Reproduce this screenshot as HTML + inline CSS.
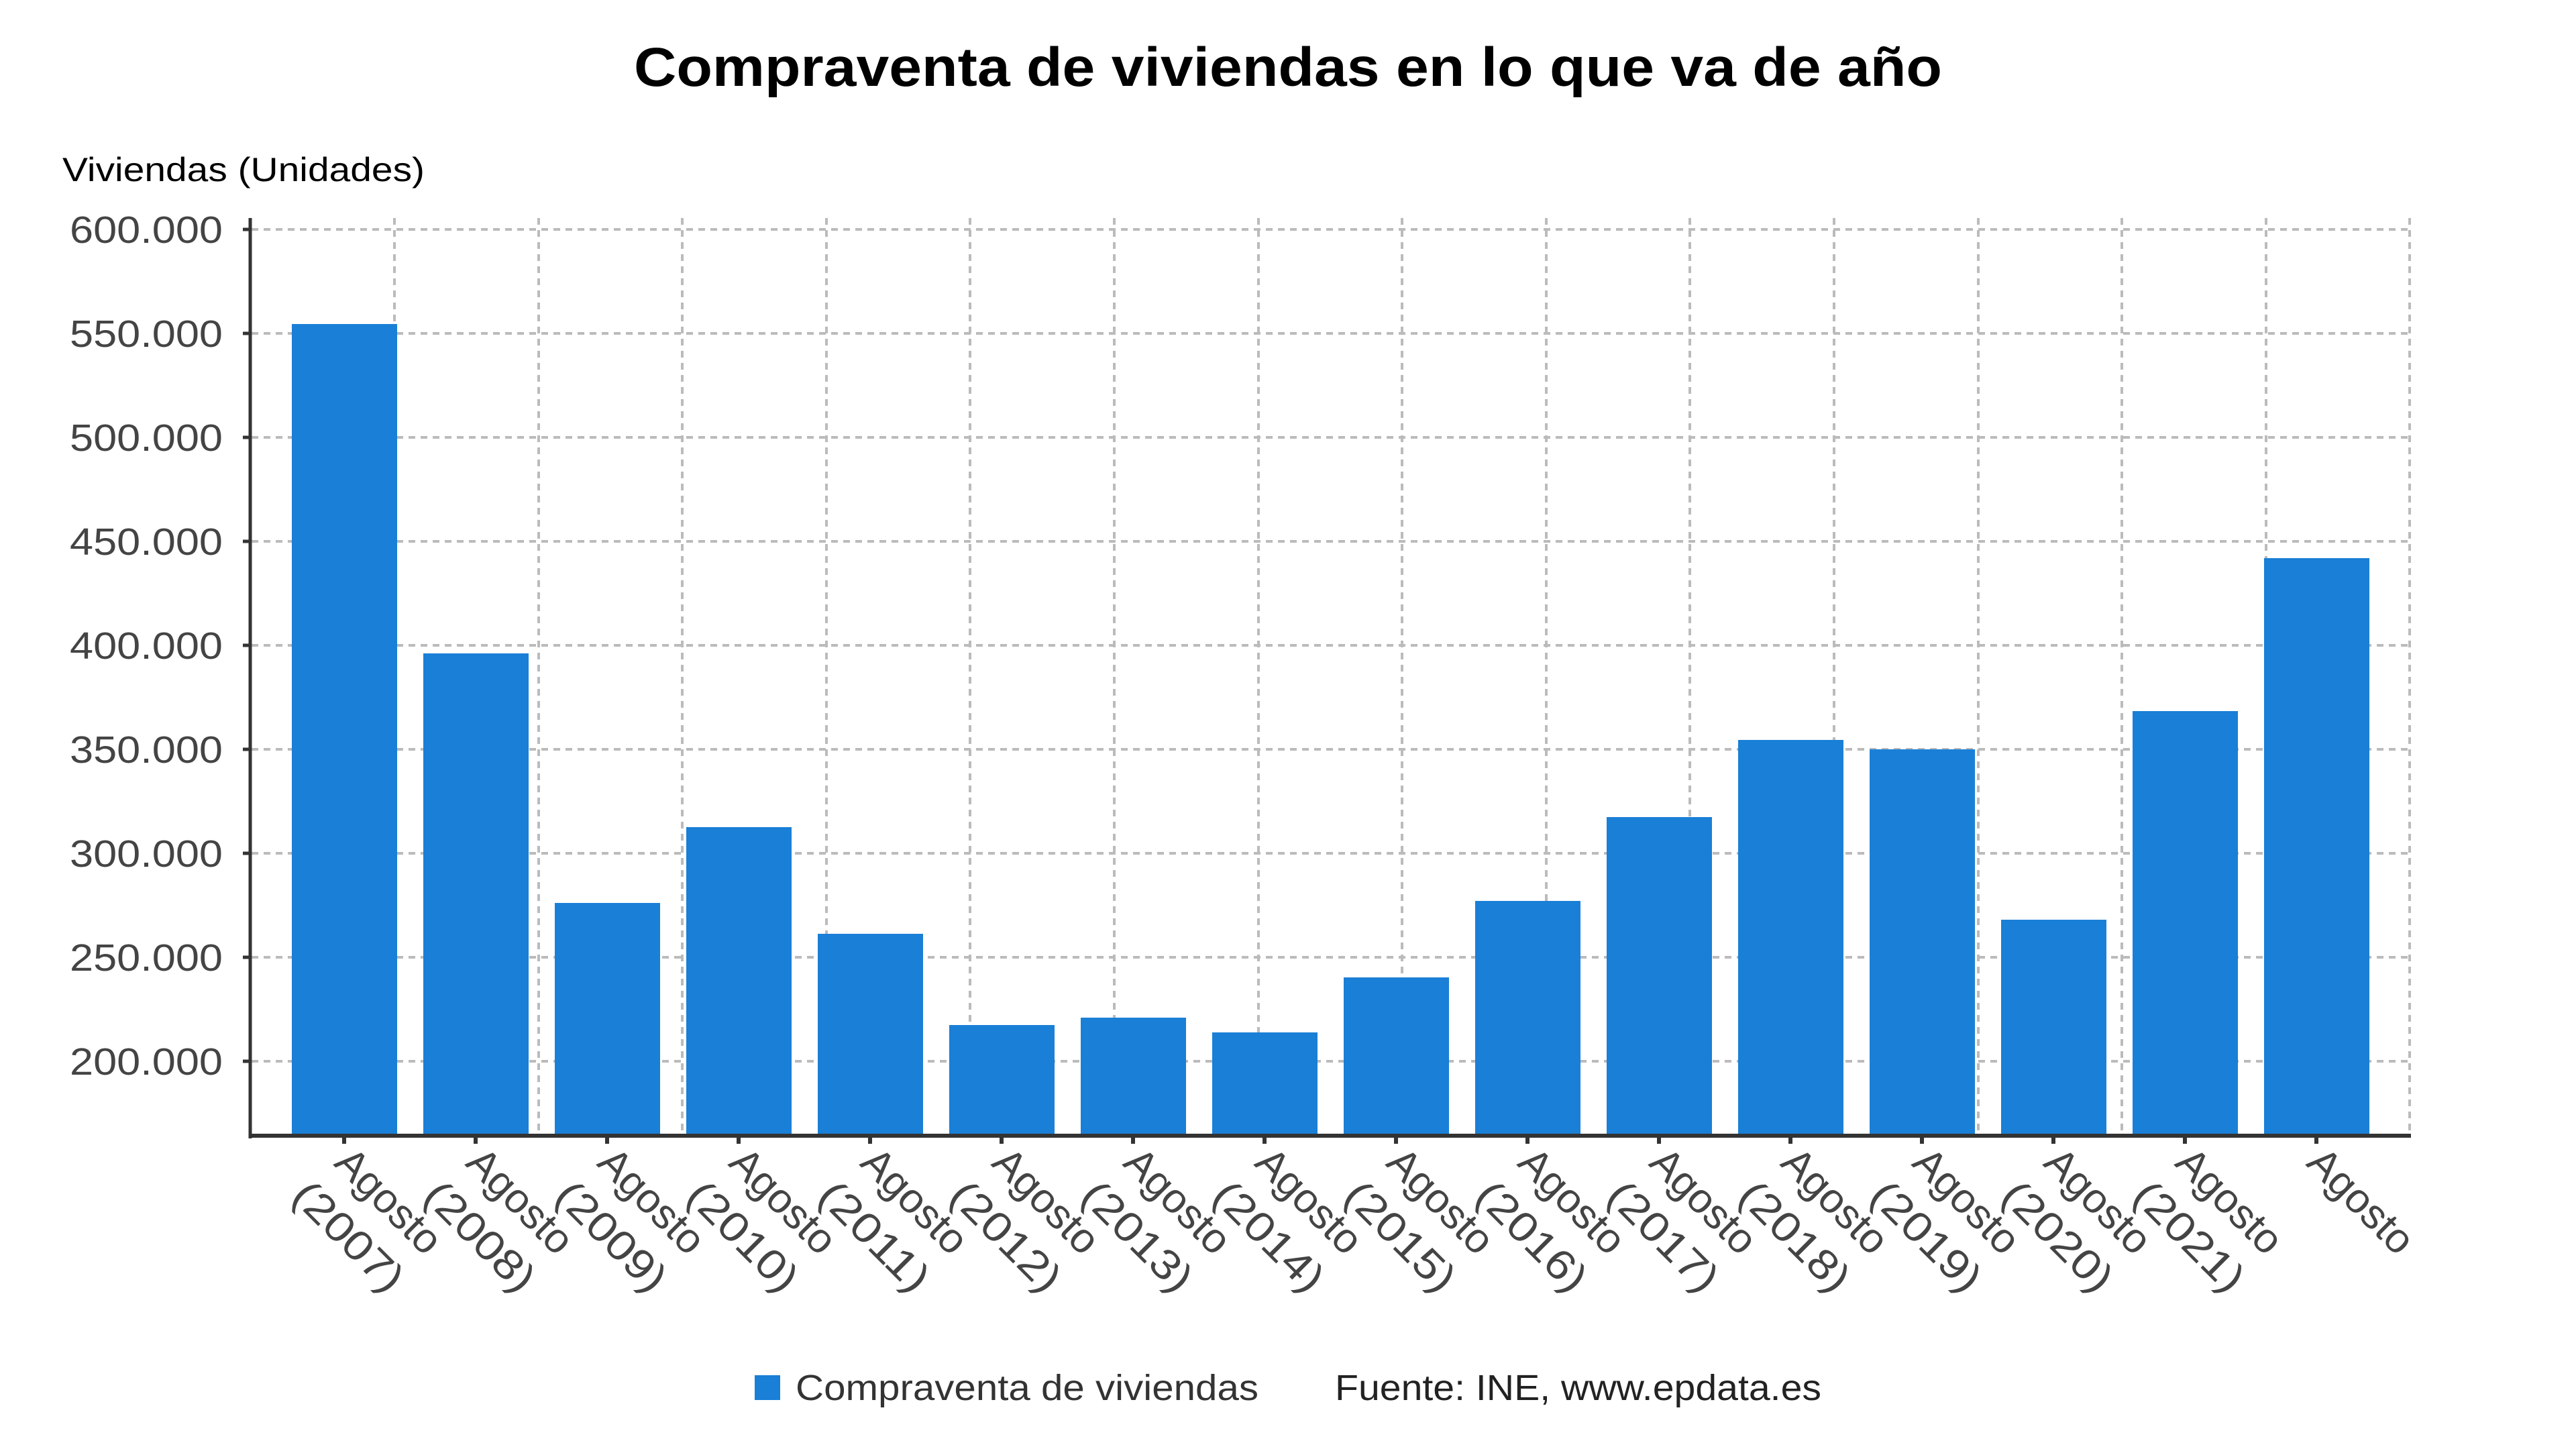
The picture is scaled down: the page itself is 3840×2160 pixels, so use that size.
<!DOCTYPE html>
<html><head><meta charset="utf-8"><style>html,body{margin:0;padding:0;background:#fff}svg{display:block}</style></head>
<body>
<svg width="3840" height="2160" viewBox="0 0 3840 2160" xmlns="http://www.w3.org/2000/svg" font-family="Liberation Sans, DejaVu Sans, sans-serif">
<rect width="3840" height="2160" fill="#fff"/>
<text x="1920" y="128" text-anchor="middle" font-size="82" font-weight="bold" fill="#000" textLength="1950" lengthAdjust="spacingAndGlyphs">Compraventa de viviendas en lo que va de año</text>
<text x="93" y="270" font-size="50" fill="#000" textLength="540" lengthAdjust="spacingAndGlyphs">Viviendas (Unidades)</text>
<g stroke="#bbb" stroke-width="4" stroke-dasharray="10,8">
<line x1="375" y1="342" x2="3594" y2="342"/>
<line x1="375" y1="497" x2="3594" y2="497"/>
<line x1="375" y1="652" x2="3594" y2="652"/>
<line x1="375" y1="807" x2="3594" y2="807"/>
<line x1="375" y1="962" x2="3594" y2="962"/>
<line x1="375" y1="1117" x2="3594" y2="1117"/>
<line x1="375" y1="1272" x2="3594" y2="1272"/>
<line x1="375" y1="1427" x2="3594" y2="1427"/>
<line x1="375" y1="1582" x2="3594" y2="1582"/>
<line x1="588" y1="325" x2="588" y2="1693"/>
<line x1="803" y1="325" x2="803" y2="1693"/>
<line x1="1017" y1="325" x2="1017" y2="1693"/>
<line x1="1232" y1="325" x2="1232" y2="1693"/>
<line x1="1446" y1="325" x2="1446" y2="1693"/>
<line x1="1661" y1="325" x2="1661" y2="1693"/>
<line x1="1876" y1="325" x2="1876" y2="1693"/>
<line x1="2090" y1="325" x2="2090" y2="1693"/>
<line x1="2305" y1="325" x2="2305" y2="1693"/>
<line x1="2519" y1="325" x2="2519" y2="1693"/>
<line x1="2734" y1="325" x2="2734" y2="1693"/>
<line x1="2949" y1="325" x2="2949" y2="1693"/>
<line x1="3163" y1="325" x2="3163" y2="1693"/>
<line x1="3378" y1="325" x2="3378" y2="1693"/>
<line x1="3592" y1="325" x2="3592" y2="1693"/>
</g>
<g fill="#1a7fd6">
<rect x="435" y="483" width="157" height="1210"/>
<rect x="631" y="974" width="157" height="719"/>
<rect x="827" y="1346" width="157" height="347"/>
<rect x="1023" y="1233" width="157" height="460"/>
<rect x="1219" y="1392" width="157" height="301"/>
<rect x="1415" y="1528" width="157" height="165"/>
<rect x="1611" y="1517" width="157" height="176"/>
<rect x="1807" y="1539" width="157" height="154"/>
<rect x="2003" y="1457" width="157" height="236"/>
<rect x="2199" y="1343" width="157" height="350"/>
<rect x="2395" y="1218" width="157" height="475"/>
<rect x="2591" y="1103" width="157" height="590"/>
<rect x="2787" y="1117" width="157" height="576"/>
<rect x="2983" y="1371" width="157" height="322"/>
<rect x="3179" y="1060" width="157" height="633"/>
<rect x="3375" y="832" width="157" height="861"/>
</g>
<line x1="373" y1="325" x2="373" y2="1697" stroke="#333" stroke-width="5"/>
<line x1="371" y1="1693" x2="3594" y2="1693" stroke="#333" stroke-width="6"/>
<g stroke="#333" stroke-width="5">
<line x1="362" y1="342" x2="373" y2="342"/><line x1="362" y1="497" x2="373" y2="497"/><line x1="362" y1="652" x2="373" y2="652"/><line x1="362" y1="807" x2="373" y2="807"/><line x1="362" y1="962" x2="373" y2="962"/><line x1="362" y1="1117" x2="373" y2="1117"/><line x1="362" y1="1272" x2="373" y2="1272"/><line x1="362" y1="1427" x2="373" y2="1427"/><line x1="362" y1="1582" x2="373" y2="1582"/>
</g>
<g font-size="57" fill="#444" text-anchor="end">
<text x="332" y="362" textLength="228" lengthAdjust="spacingAndGlyphs">600.000</text>
<text x="332" y="517" textLength="228" lengthAdjust="spacingAndGlyphs">550.000</text>
<text x="332" y="672" textLength="228" lengthAdjust="spacingAndGlyphs">500.000</text>
<text x="332" y="827" textLength="228" lengthAdjust="spacingAndGlyphs">450.000</text>
<text x="332" y="982" textLength="228" lengthAdjust="spacingAndGlyphs">400.000</text>
<text x="332" y="1137" textLength="228" lengthAdjust="spacingAndGlyphs">350.000</text>
<text x="332" y="1292" textLength="228" lengthAdjust="spacingAndGlyphs">300.000</text>
<text x="332" y="1447" textLength="228" lengthAdjust="spacingAndGlyphs">250.000</text>
<text x="332" y="1602" textLength="228" lengthAdjust="spacingAndGlyphs">200.000</text>
</g>
<g font-size="62" fill="#444">
<g transform="translate(496,1736) rotate(45)"><text x="0" y="0" textLength="195" lengthAdjust="spacingAndGlyphs">Agosto</text><text x="-10" y="80" textLength="205" lengthAdjust="spacingAndGlyphs">(2007)</text></g>
<g transform="translate(692,1736) rotate(45)"><text x="0" y="0" textLength="195" lengthAdjust="spacingAndGlyphs">Agosto</text><text x="-10" y="80" textLength="205" lengthAdjust="spacingAndGlyphs">(2008)</text></g>
<g transform="translate(888,1736) rotate(45)"><text x="0" y="0" textLength="195" lengthAdjust="spacingAndGlyphs">Agosto</text><text x="-10" y="80" textLength="205" lengthAdjust="spacingAndGlyphs">(2009)</text></g>
<g transform="translate(1084,1736) rotate(45)"><text x="0" y="0" textLength="195" lengthAdjust="spacingAndGlyphs">Agosto</text><text x="-10" y="80" textLength="205" lengthAdjust="spacingAndGlyphs">(2010)</text></g>
<g transform="translate(1280,1736) rotate(45)"><text x="0" y="0" textLength="195" lengthAdjust="spacingAndGlyphs">Agosto</text><text x="-10" y="80" textLength="205" lengthAdjust="spacingAndGlyphs">(2011)</text></g>
<g transform="translate(1476,1736) rotate(45)"><text x="0" y="0" textLength="195" lengthAdjust="spacingAndGlyphs">Agosto</text><text x="-10" y="80" textLength="205" lengthAdjust="spacingAndGlyphs">(2012)</text></g>
<g transform="translate(1672,1736) rotate(45)"><text x="0" y="0" textLength="195" lengthAdjust="spacingAndGlyphs">Agosto</text><text x="-10" y="80" textLength="205" lengthAdjust="spacingAndGlyphs">(2013)</text></g>
<g transform="translate(1868,1736) rotate(45)"><text x="0" y="0" textLength="195" lengthAdjust="spacingAndGlyphs">Agosto</text><text x="-10" y="80" textLength="205" lengthAdjust="spacingAndGlyphs">(2014)</text></g>
<g transform="translate(2064,1736) rotate(45)"><text x="0" y="0" textLength="195" lengthAdjust="spacingAndGlyphs">Agosto</text><text x="-10" y="80" textLength="205" lengthAdjust="spacingAndGlyphs">(2015)</text></g>
<g transform="translate(2260,1736) rotate(45)"><text x="0" y="0" textLength="195" lengthAdjust="spacingAndGlyphs">Agosto</text><text x="-10" y="80" textLength="205" lengthAdjust="spacingAndGlyphs">(2016)</text></g>
<g transform="translate(2456,1736) rotate(45)"><text x="0" y="0" textLength="195" lengthAdjust="spacingAndGlyphs">Agosto</text><text x="-10" y="80" textLength="205" lengthAdjust="spacingAndGlyphs">(2017)</text></g>
<g transform="translate(2652,1736) rotate(45)"><text x="0" y="0" textLength="195" lengthAdjust="spacingAndGlyphs">Agosto</text><text x="-10" y="80" textLength="205" lengthAdjust="spacingAndGlyphs">(2018)</text></g>
<g transform="translate(2848,1736) rotate(45)"><text x="0" y="0" textLength="195" lengthAdjust="spacingAndGlyphs">Agosto</text><text x="-10" y="80" textLength="205" lengthAdjust="spacingAndGlyphs">(2019)</text></g>
<g transform="translate(3044,1736) rotate(45)"><text x="0" y="0" textLength="195" lengthAdjust="spacingAndGlyphs">Agosto</text><text x="-10" y="80" textLength="205" lengthAdjust="spacingAndGlyphs">(2020)</text></g>
<g transform="translate(3240,1736) rotate(45)"><text x="0" y="0" textLength="195" lengthAdjust="spacingAndGlyphs">Agosto</text><text x="-10" y="80" textLength="205" lengthAdjust="spacingAndGlyphs">(2021)</text></g>
<g transform="translate(3436,1736) rotate(45)"><text x="0" y="0" textLength="195" lengthAdjust="spacingAndGlyphs">Agosto</text></g>
</g>
<g stroke="#333" stroke-width="6">
<line x1="513" y1="1693" x2="513" y2="1705"/><line x1="709" y1="1693" x2="709" y2="1705"/><line x1="905" y1="1693" x2="905" y2="1705"/><line x1="1101" y1="1693" x2="1101" y2="1705"/><line x1="1297" y1="1693" x2="1297" y2="1705"/><line x1="1493" y1="1693" x2="1493" y2="1705"/><line x1="1689" y1="1693" x2="1689" y2="1705"/><line x1="1885" y1="1693" x2="1885" y2="1705"/><line x1="2081" y1="1693" x2="2081" y2="1705"/><line x1="2277" y1="1693" x2="2277" y2="1705"/><line x1="2473" y1="1693" x2="2473" y2="1705"/><line x1="2669" y1="1693" x2="2669" y2="1705"/><line x1="2865" y1="1693" x2="2865" y2="1705"/><line x1="3061" y1="1693" x2="3061" y2="1705"/><line x1="3257" y1="1693" x2="3257" y2="1705"/><line x1="3453" y1="1693" x2="3453" y2="1705"/>
</g>
<rect x="1125" y="2050" width="38" height="37" fill="#1a7fd6"/>
<text x="1186" y="2087" font-size="54" fill="#333" textLength="690" lengthAdjust="spacingAndGlyphs">Compraventa de viviendas</text>
<text x="1990" y="2087" font-size="54" fill="#222" textLength="725" lengthAdjust="spacingAndGlyphs">Fuente: INE, www.epdata.es</text>
</svg>
</body></html>
